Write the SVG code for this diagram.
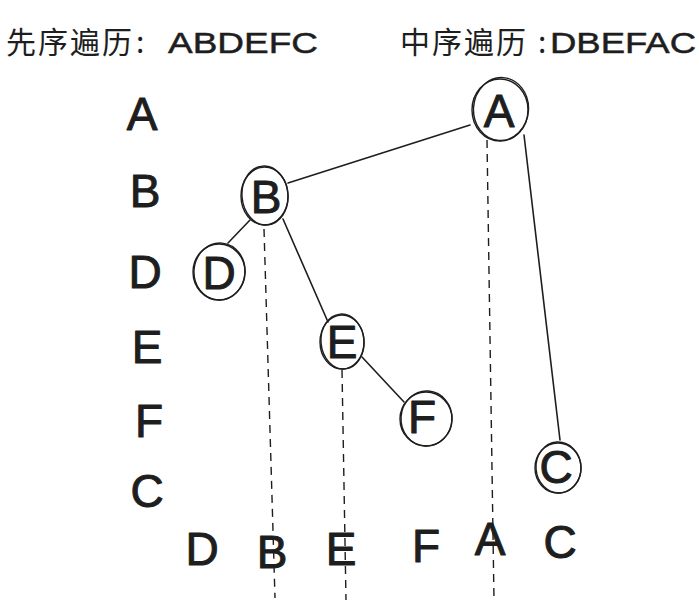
<svg xmlns="http://www.w3.org/2000/svg" width="699" height="601" viewBox="0 0 699 601">
<style>
.bg{fill:#ffffff}
.t{font-family:"Liberation Sans","Noto Sans CJK SC",sans-serif;fill:#1e1e1e;stroke:#1e1e1e;stroke-width:1;stroke-linejoin:round}
.h{font-family:"Noto Sans CJK SC","Liberation Sans",sans-serif;font-size:30px;letter-spacing:2px;fill:#1e1e1e}
.hl{font-family:"Liberation Sans",sans-serif;font-size:30px;letter-spacing:0;fill:#1e1e1e;stroke:#1e1e1e;stroke-width:0.5}
.L{font-size:46px;text-anchor:middle}
.c{fill:none;stroke:#1e1e1e;stroke-width:1.4}
.e{fill:none;stroke:#1e1e1e;stroke-width:1.6;stroke-linecap:round}
.d{fill:none;stroke:#1e1e1e;stroke-width:1.4;stroke-dasharray:8 6}
</style>
<rect class="bg" x="0" y="0" width="699" height="601"/>

<g id="header">
  <text class="h" x="6" y="53">先序遍历<tspan x="136">:</tspan><tspan class="hl" x="168" textLength="150" lengthAdjust="spacingAndGlyphs">ABDEFC</tspan></text>
  <text class="h" x="400" y="53">中序遍历<tspan x="538">:</tspan><tspan class="hl" x="550" textLength="146" lengthAdjust="spacingAndGlyphs">DBEFAC</tspan></text>
</g>

<g id="preorder-column" class="t L">
  <text x="142" y="130">A</text>
  <text x="145" y="207">B</text>
  <text x="145" y="288">D</text>
  <text x="147" y="363">E</text>
  <text x="149" y="437">F</text>
  <text x="147" y="507">C</text>
</g>

<g id="inorder-row" class="t L">
  <text x="202" y="565">D</text>
  <text x="272" y="568">B</text>
  <text x="341" y="565">E</text>
  <text x="426" y="562">F</text>
  <text x="490" y="555">A</text>
  <text x="560" y="558">C</text>
</g>

<g id="connectors">
  <line class="e" x1="470" y1="125" x2="288" y2="183"/>
  <line class="e" x1="250" y1="220" x2="228" y2="243"/>
  <line class="e" x1="283" y1="219" x2="328" y2="322"/>
  <line class="e" x1="362" y1="357" x2="404" y2="402"/>
  <line class="e" x1="524" y1="135" x2="560" y2="440"/>
  <line class="d" x1="264" y1="229" x2="275" y2="598"/>
  <line class="d" x1="342" y1="370" x2="346" y2="600"/>
  <line class="d" x1="487" y1="140" x2="494" y2="600"/>
</g>

<g id="node-A">
  <ellipse class="c" cx="500" cy="110" rx="28" ry="31"/>
  <ellipse class="c" cx="501" cy="109" rx="27.5" ry="31.5" transform="rotate(4 501 109)"/>
  <text class="t L" x="499" y="127">A</text>
</g>
<g id="node-B">
  <ellipse class="c" cx="264.5" cy="196" rx="23.5" ry="29"/>
  <ellipse class="c" cx="265" cy="195.5" rx="23" ry="29.5" transform="rotate(-5 265 195.5)"/>
  <text class="t L" x="266" y="213">B</text>
</g>
<g id="node-D">
  <ellipse class="c" cx="219" cy="272" rx="26" ry="28"/>
  <ellipse class="c" cx="219.5" cy="271.5" rx="25.5" ry="28.5" transform="rotate(5 219.5 271.5)"/>
  <text class="t L" x="219" y="289">D</text>
</g>
<g id="node-E">
  <ellipse class="c" cx="342" cy="342" rx="22" ry="27"/>
  <ellipse class="c" cx="342.5" cy="341.5" rx="21.5" ry="27.5" transform="rotate(-5 342.5 341.5)"/>
  <text class="t L" x="342" y="358">E</text>
</g>
<g id="node-F">
  <ellipse class="c" cx="426" cy="419" rx="26" ry="27"/>
  <ellipse class="c" cx="426.5" cy="418.5" rx="25.5" ry="27.5" transform="rotate(4 426.5 418.5)"/>
  <text class="t L" x="422" y="433">F</text>
</g>
<g id="node-C">
  <ellipse class="c" cx="558" cy="468" rx="23" ry="25"/>
  <ellipse class="c" cx="558.5" cy="467.5" rx="22.5" ry="25.5" transform="rotate(-4 558.5 467.5)"/>
  <text class="t L" x="556" y="483">C</text>
</g>
</svg>
